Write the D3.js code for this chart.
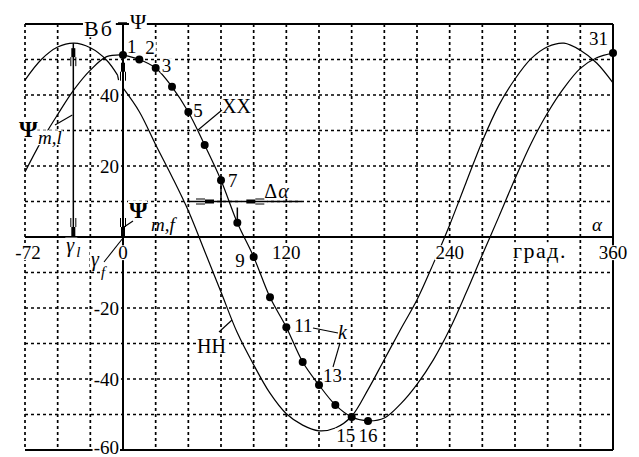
<!DOCTYPE html>
<html><head><meta charset="utf-8">
<script src="https://cdn.jsdelivr.net/npm/d3@7"></script>
</head><body style="margin:0">
<svg id="c" width="639" height="457" style="font-family:'Liberation Serif'"></svg>
<script>
// ---------- data ----------
const alphaGrid = [0,12,24,36,48,60,72,84,96,108,120,132,144,156,168,180,192,204,216,228,240,252,264,276,288,300,312,324,336,348,360];
// ХХ curve (points k = 1..31)
const psiXX = [51.3,50,47.6,42.3,35.2,25.9,16,4,-5.6,-17,-25.4,-35.2,-41.7,-47.3,-50.7,-51.8,-51,-47,-41.5,-34.6,-26,-15.8,-5,5.6,16.4,26.5,35,42,47.5,50.5,51.8];
// НН curve
const psiNN = [42,35.3,26,17,7.4,-4,-15.5,-27,-36,-44,-49.8,-53,-54.6,-53.8,-50.5,-43,-34.5,-26,-17.7,-7.5,3.4,15.3,27,37,44.5,50.3,53.6,54.6,52.6,49,43.4];
// fundamental of НН (l) shown left of the axis
const alphaL = [-72,-60,-48,-36,-24,-12,-4];
const psiL = [44.2,50,53.5,54.6,53.3,49.8,45.6];
// fundamental of ХХ (f) shown left of the axis
const alphaF = [-72,-60,-48,-36,-24,-12,0];
const psiF = [18.3,27,34.5,41.5,47,50.8,51.3];
const dotted = [1,2,3,4,5,6,7,8,9,10,11,12,13,14,15,16,31];
const pointLabels = [1,2,3,5,7,9,11,13,15,16,31];
const xTickLabels = [-72,0,120,240,360];
const yTickLabels = [40,20,-20,-40,-60];
const gammaL = -36.5, psiML = 54.6;
const gammaF = 0, psiMF = 50.5;
const dA = {k1:6, k2:7, level:10};

// ---------- scales ----------
const x = d3.scaleLinear().domain([-72,360]).range([25,613]);
const y = d3.scaleLinear().domain([-60,60]).range([450,24]);

const svg = d3.select('#c');
svg.append('rect').attr('width', 639).attr('height', 457).attr('fill', '#fff');
const gGrid = svg.append('g');
const gAxes = svg.append('g');
const gCurves = svg.append('g');
const gMask = svg.append('g');
const gAnn = svg.append('g');
const gText = svg.append('g').style('font-family', '"Liberation Serif"');

// grid
const vLines = d3.range(-72, 360, 24).filter(v => v !== 0);
const hLines = d3.range(-50, 60, 10).filter(v => v !== 0);
gGrid.selectAll('line.v').data(vLines).join('line')
  .attr('x1', d => x(d)).attr('x2', d => x(d)).attr('y1', y(60)).attr('y2', y(-60))
  .attr('stroke', '#000').attr('stroke-width', 1.7).attr('stroke-dasharray', '3,3');
gGrid.selectAll('line.h').data(hLines).join('line')
  .attr('x1', x(-72)).attr('x2', x(360)).attr('y1', d => y(d)).attr('y2', d => y(d))
  .attr('stroke', '#000').attr('stroke-width', 1.7).attr('stroke-dasharray', '3,3');

// frame + axes
function ln(g, x1, y1, x2, y2, w) {
  return g.append('line').attr('x1', x1).attr('y1', y1).attr('x2', x2).attr('y2', y2)
    .attr('stroke', '#000').attr('stroke-width', w || 1.2);
}
ln(gAxes, x(-72), y(60), x(360), y(60), 2);
ln(gAxes, x(-72), y(-60), x(360), y(-60), 2);
ln(gAxes, x(360), y(60), x(360), y(-60), 2);
ln(gAxes, x(-72), y(0), x(360), y(0), 2);
ln(gAxes, x(0), y(60) - 1, x(0), y(-60), 2);
ln(gAxes, x(0) - 5, y(60) - 1, x(0) + 4, y(60) - 1, 1.5);

// curves
const line = d3.line().x(d => x(d[0])).y(d => y(d[1])).curve(d3.curveCatmullRom.alpha(0.5));
const xxData = alphaGrid.map((a, i) => [a, psiXX[i]]);
const nnData = alphaGrid.map((a, i) => [a, psiNN[i]]);
const lData = alphaL.map((a, i) => [a, psiL[i]]);
const fData = alphaF.map((a, i) => [a, psiF[i]]);
[xxData, nnData, lData, fData].forEach(dat => {
  gCurves.append('path').attr('d', line(dat)).attr('fill', 'none')
    .attr('stroke', '#000').attr('stroke-width', 1.2);
});
ln(gCurves, x(alphaL[alphaL.length-1]), y(psiL[psiL.length-1]), x(alphaL[alphaL.length-1]) + 1, y(psiL[psiL.length-1]) + 5, 1.2);

// text helper (background box estimated from glyph widths)
function estW(s, size, ls) {
  let w = 0;
  for (const c of s) {
    if (/[0-9]/.test(c)) w += 0.5;
    else if (c === '-') w += 0.34;
    else if (c === '.' || c === ',') w += 0.25;
    else if (/[A-ZА-ЯΨΔ]/.test(c)) w += 0.72;
    else w += 0.5;
  }
  return w * size + (ls || 0) * s.length;
}
function txt(s, px, py, o) {
  o = o || {};
  const size = o.size || 19;
  const t = gText.append('text').attr('x', px).attr('y', py)
    .style('font-family', '"Liberation Serif"')
    .attr('font-size', size)
    .attr('text-anchor', o.anchor || 'start')
    .text(s);
  if (o.ls) t.attr('letter-spacing', o.ls);
  if (o.weight) t.attr('font-weight', o.weight);
  if (o.style) t.attr('font-style', o.style);
  if (o.bg !== false) {
    const w = estW(s, size, o.ls);
    const a = o.anchor || 'start';
    const x0 = a === 'middle' ? px - w / 2 : a === 'end' ? px - w : px;
    gMask.append('rect').attr('x', x0 - 1).attr('y', py - size * 0.72).attr('width', w + 2)
      .attr('height', size * 0.78).attr('fill', '#fff');
  }
  return t;
}

// tick labels
xTickLabels.forEach(v => txt(String(v), x(v) + (v === -72 ? 3 : 0), y(0) + 22, {anchor: 'middle'}));
yTickLabels.forEach(v => txt(String(v), x(0) - 4, y(v) + (v === -60 ? 4 : 6.5), {anchor: 'end'}));

// axis titles
txt('Вб', 84, 36, {size: 22, ls: 2});
txt('Ψ', 130, 29, {size: 22});
txt('α', 592, 231, {style: 'italic'});
txt('град.', 513, 258, {size: 22, ls: 1.5});

// dots
const gDots = svg.append('g');
gDots.selectAll('circle').data(dotted).join('circle')
  .attr('cx', k => x(alphaGrid[k-1])).attr('cy', k => y(psiXX[k-1])).attr('r', 4).attr('fill', '#000');

// point labels (offsets relative to point)
const off = {1:[4,-2,'start'],2:[6,-6,'start'],3:[6,4,'start'],5:[5,5,'start'],7:[7,7,'start'],
  9:[-9,10,'end'],11:[8,5,'start'],13:[4,-3,'start'],15:[-6,25,'middle'],16:[0,21,'middle'],31:[-5,-8,'end']};
pointLabels.forEach(k => {
  const o = off[k];
  txt(String(k), x(alphaGrid[k-1]) + o[0], y(psiXX[k-1]) + o[1], {anchor: o[2]});
});

// arrowheads
function arrowV(px, tip, dir) {
  const y0 = dir < 0 ? tip : tip - 9;
  gAnn.append('rect').attr('x', px - 2).attr('y', y0).attr('width', 4).attr('height', 9).attr('fill', '#000');
  const a = tip - dir * 9, b = tip - dir * 18;
  ln(gAnn, px - 2.5, a, px - 2.5, b, 1);
  ln(gAnn, px + 2.5, a, px + 2.5, b, 1);
}
function arrowH(tip, py, dir) {
  const x0 = dir > 0 ? tip - 9 : tip;
  gAnn.append('rect').attr('x', x0).attr('y', py - 2).attr('width', 9).attr('height', 4).attr('fill', '#000');
  const a = tip - dir * 9, b = tip - dir * 18;
  ln(gAnn, a, py - 2.5, b, py - 2.5, 1);
  ln(gAnn, a, py + 2.5, b, py + 2.5, 1);
}

// Ψm,l arrow
ln(gAnn, x(gammaL), y(psiML), x(gammaL), y(0), 1.5);
arrowV(x(gammaL), y(psiML) + 5, -1);
arrowV(x(gammaL), y(0) - 1, 1);
// Ψm,f arrow (on the Ψ axis)
arrowV(x(gammaF), y(psiMF) + 5, -1);
arrowV(x(gammaF), y(0) - 1, 1);

// Δα construction
const xa = x(alphaGrid[dA.k1]), xb = x(alphaGrid[dA.k2]), yl = y(dA.level);
gMask.append('rect').attr('x', xa - 30).attr('y', yl - 11).attr('width', 26).attr('height', 20).attr('fill', '#fff');
gMask.append('rect').attr('x', xb + 4).attr('y', yl - 11).attr('width', 26).attr('height', 20).attr('fill', '#fff');
ln(gAnn, xa - 32, yl, xb + 64, yl, 1.5);
ln(gAnn, xa, y(psiXX[dA.k1]), xa, yl + 6, 1.5);
ln(gAnn, xb, y(psiXX[dA.k2]), xb, yl + 6, 1.5);
arrowH(xa - 7, yl, 1);
arrowH(xb + 9, yl, -1);
txt('Δ', xb + 27, yl - 4, {size: 20});
txt('α', xb + 41, yl - 4, {size: 20, style: 'italic'});

// labels with leaders
txt('Ψ', 19, 137, {size: 24, weight: 'bold'});
txt('m,l', 38, 144, {size: 19, style: 'italic'});
ln(gAnn, 55, 125, x(gammaL) - 1, 115, 1.1);

txt('Ψ', 129, 218, {size: 24, weight: 'bold'});
txt('m,f', 151, 231, {size: 19, style: 'italic', bg: false});
ln(gAnn, x(0) + 1, 227, 133, 221, 1.1);

txt('γ', x(gammaL) - 7, 252, {size: 20, style: 'italic'});
txt('l', x(gammaL) + 3, 257, {size: 15, style: 'italic'});
txt('γ', 91, 266, {size: 20, style: 'italic'});
txt('f', 101, 277, {size: 15, style: 'italic'});
ln(gAnn, 104, 262, x(0), y(0) + 1, 1.1);

txt('ХХ', 222, 113, {size: 20});
ln(gAnn, 198, 130, 222, 110, 1.1);
txt('НН', 197, 353, {size: 20});
ln(gAnn, 219, 332, 232, 320, 1.1);
txt('k', 338, 339, {size: 20, style: 'italic'});
ln(gAnn, 313, 328, 338, 333, 1.1);
ln(gAnn, 333, 367, 340, 343, 1.1);
</script>
</body></html>
